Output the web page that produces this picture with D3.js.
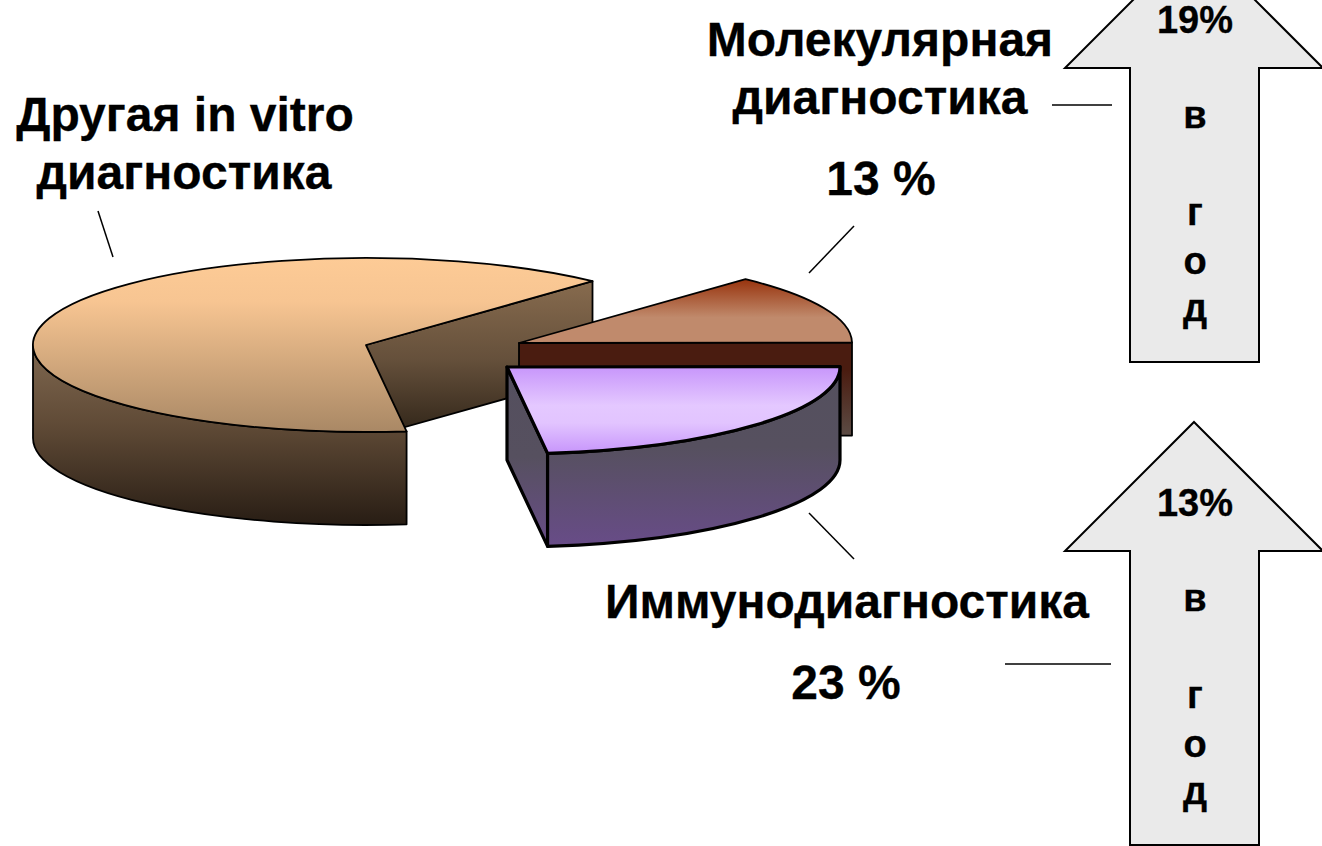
<!DOCTYPE html>
<html>
<head>
<meta charset="utf-8">
<script src="https://cdn.jsdelivr.net/npm/d3@7"></script>
<style>
html, body { margin: 0; padding: 0; background: #fff; overflow: hidden; }
svg { display: block; }
text { font-family: "Liberation Sans", Arial, sans-serif; font-weight: bold; fill: #000; stroke: #000; stroke-width: 0.3; }
</style>
</head>
<body>
<div id="chart"></div>
<script>
// chart values
var categories = ["Другая in vitro диагностика", "Молекулярная диагностика", "Иммунодиагностика"];
var shares = [63.85, 13, 23.15];
var shareLabels = ["", "13 %", "23 %"];
var growth = ["19%", "13%"];
var yearLetters = ["в", "г", "о", "д"];

var width = 1322, height = 846;
var rx = 333, ry = 87, depth = 93;

var svg = d3.select("#chart").append("svg")
    .attr("width", width)
    .attr("height", height);

var defs = svg.append("defs");

// vertical gradient helper
function gradient(id, stops) {
    var g = defs.append("linearGradient")
        .attr("id", id)
        .attr("x1", 0).attr("y1", 0).attr("x2", 0).attr("y2", 1);
    stops.forEach(function(s) {
        g.append("stop").attr("offset", s[0]).attr("stop-color", s[1]);
    });
}
gradient("bigTop", [[0, "#fdcb96"], [0.25, "#f7c592"], [1, "#a98865"]]);
gradient("bigWall", [[0, "#806850"], [0.45, "#5f4a36"], [1, "#281d14"]]);
gradient("bigFace", [[0, "#876b4e"], [0.5, "#65503b"], [1, "#2e2317"]]);
gradient("molTop", [[0, "#98330d"], [0.6, "#c08a6c"], [1, "#c08a6c"]]);
gradient("molFace", [[0, "#4a1c10"], [0.3, "#4a1c10"], [1, "#5c4c45"]]);
gradient("immTop", [[0, "#c795fb"], [0.45, "#e4c8ff"], [0.65, "#e2c4ff"], [1, "#c795fb"]]);
gradient("immWall", [[0, "#54505e"], [0.45, "#56505f"], [1, "#684c88"]]);
gradient("immFace", [[0, "#544f5e"], [0.5, "#56505f"], [1, "#684c88"]]);

// pie angles: the pie starts at the lower cut of the big slice
var start = 173 * Math.PI / 180;
var arcs = d3.pie().sort(null).startAngle(start).endAngle(start + 2 * Math.PI)(shares);

// exploded slice centres
var centers = [[366, 345], [519, 343], [507, 367]];
var strokes = [1.8, 1.8, 3.2];

function pt(c, a) {
    return [c[0] + rx * Math.sin(a), c[1] - ry * Math.cos(a)];
}
function sector(c, a0, a1) {
    var p0 = pt(c, a0), p1 = pt(c, a1);
    return "M" + c + "L" + p0 + "A" + rx + "," + ry + " 0 " + (a1 - a0 > Math.PI ? 1 : 0) + " 1 " + p1 + "Z";
}
function wall(c, a0, a1) {
    var p0 = pt(c, a0), p1 = pt(c, a1);
    return "M" + p0 + "A" + rx + "," + ry + " 0 0 1 " + p1 +
        "L" + [p1[0], p1[1] + depth] +
        "A" + rx + "," + ry + " 0 0 0 " + [p0[0], p0[1] + depth] + "Z";
}
function face(c, a) {
    var p = pt(c, a);
    return "M" + c + "L" + p + "L" + [p[0], p[1] + depth] + "L" + [c[0], c[1] + depth] + "Z";
}
function draw(d, fill, sw) {
    svg.append("path")
        .attr("d", d)
        .attr("fill", "url(#" + fill + ")")
        .attr("stroke", "#000")
        .attr("stroke-width", sw)
        .attr("stroke-linejoin", "round");
}

// big slice
var big = arcs[0], mol = arcs[1], imm = arcs[2];
draw(face(centers[0], big.endAngle), "bigFace", strokes[0]);
draw(wall(centers[0], big.startAngle, 1.5 * Math.PI), "bigWall", strokes[0]);
draw(sector(centers[0], big.startAngle, big.endAngle), "bigTop", strokes[0]);

// molecular slice
draw(face(centers[1], mol.endAngle), "molFace", strokes[1]);
draw(sector(centers[1], mol.startAngle, mol.endAngle), "molTop", strokes[1]);

// immuno slice
draw(face(centers[2], imm.endAngle), "immFace", strokes[2]);
draw(wall(centers[2], imm.startAngle, imm.endAngle), "immWall", strokes[2]);
draw(sector(centers[2], imm.startAngle, imm.endAngle), "immTop", strokes[2]);

// leader lines
var leaders = [
    [98, 211, 113, 257], [854, 226, 809, 273], [809, 513, 854, 559],
    [1052, 105, 1112, 105], [1005, 664, 1111, 664]
];
svg.selectAll(".leader")
    .data(leaders)
    .enter()
    .append("line")
    .attr("class", "leader")
    .attr("x1", function(d) { return d[0]; })
    .attr("y1", function(d) { return d[1]; })
    .attr("x2", function(d) { return d[2]; })
    .attr("y2", function(d) { return d[3]; })
    .attr("stroke", "#000")
    .attr("stroke-width", 1.5);

// big labels
var labels = [
    ["Молекулярная", 880, 56], ["диагностика", 880, 114], [shareLabels[1], 881, 195],
    ["Другая in vitro", 185, 131], ["диагностика", 184, 189],
    [categories[2], 847, 618], [shareLabels[2], 846, 699]
];
svg.selectAll(".label")
    .data(labels)
    .enter()
    .append("text")
    .attr("class", "label")
    .attr("x", function(d) { return d[1]; })
    .attr("y", function(d) { return d[2]; })
    .attr("text-anchor", "middle")
    .style("font-size", "48px")
    .text(function(d) { return d[0]; });

// arrows
var arrowTops = [-61, 422];
var arrowLine = d3.line();
arrowTops.forEach(function(top, i) {
    var cx = 1194;
    svg.append("path")
        .attr("d", arrowLine([
            [cx, top], [cx + 129, top + 129], [cx + 65, top + 129], [cx + 65, top + 423],
            [cx - 64, top + 423], [cx - 64, top + 129], [cx - 129, top + 129]
        ]) + "Z")
        .attr("fill", "#eaeaea")
        .attr("stroke", "#000")
        .attr("stroke-width", 2);

    svg.append("text")
        .attr("x", cx + 1)
        .attr("y", top + 94)
        .attr("text-anchor", "middle")
        .style("font-size", "38px")
        .text(growth[i]);

    var letterY = [189, 286, 335, 382];
    yearLetters.forEach(function(l, j) {
        svg.append("text")
            .attr("x", cx + 1)
            .attr("y", top + letterY[j])
            .attr("text-anchor", "middle")
            .style("font-size", "38px")
            .text(l);
    });
});
</script>
</body>
</html>
